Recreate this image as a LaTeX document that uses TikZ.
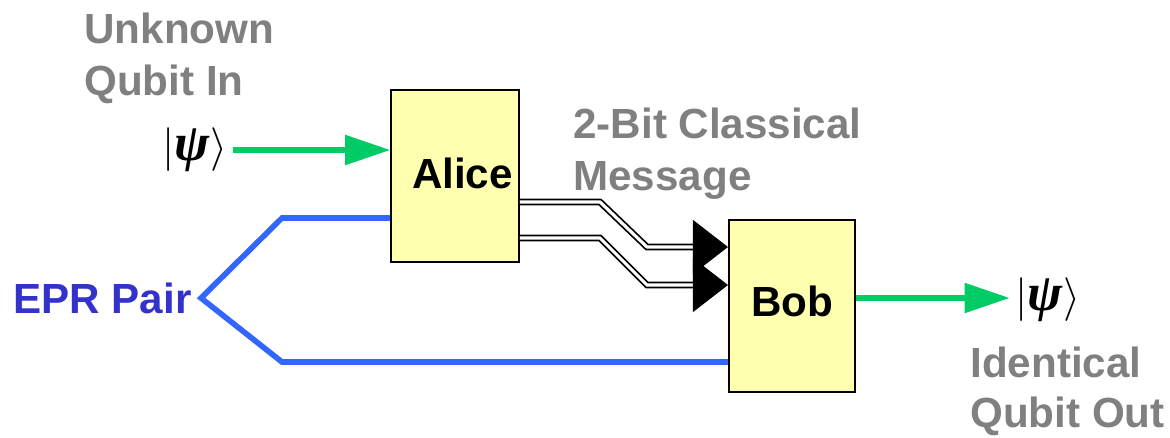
\documentclass[tikz,border=0pt]{standalone}
\usepackage{fontspec}
\setmainfont{Liberation Sans}
\newfontfamily\ketfont{Liberation Serif}
\usetikzlibrary{arrows.meta}
\definecolor{boxfill}{HTML}{FFFFB0}
\definecolor{labelgray}{HTML}{808080}
\definecolor{qgreen}{HTML}{00CC66}
\definecolor{eprblue}{HTML}{3366FF}
\definecolor{eprtext}{HTML}{3333CC}
\begin{document}
\begin{tikzpicture}[x=0.02cm,y=-0.02cm,
    party/.style={draw,line width=1.2pt,fill=boxfill,minimum width=2.52cm,minimum height=3.44cm,
        font=\fontsize{24}{29}\selectfont\bfseries},
    caption/.style={anchor=north west,align=left,inner sep=0pt,text=labelgray,
        font=\fontsize{24}{29.5}\selectfont\bfseries},
    ket/.style={font=\fontsize{30}{36}\selectfont},
    qubit/.style={draw=qgreen,line width=3pt,-{Triangle[length=0.9cm,width=0.58cm]}},
    epr/.style={draw=eprblue,line width=3.2pt},
    bits/.style={double,line width=1pt,double distance=1.8pt},
    bittip/.style={line width=0.5pt,-{Triangle[length=0.7cm,width=1.08cm]}}]
        \useasboundingbox (0,0) rectangle (1170,437);

        \node[caption] (inlabel) at (84,13) {Unknown\\Qubit In};
        \node[caption] (msglabel) at (573,108) {2-Bit Classical\\Message};
        \node[caption,font=\fontsize{24}{28.5}\selectfont\bfseries] (outlabel) at (970,347) {Identical\\Qubit Out};
        \node[anchor=west,inner sep=0pt,text=eprtext,font=\fontsize{24}{29}\selectfont\bfseries] (eprlabel) at (13,298) {EPR Pair};

        \node[party] (alice) at (455,176) {\raisebox{0.12cm}{\hspace*{0.3cm}Alice}};
        \node[party] (bob) at (792,306) {\raisebox{0.18cm}{Bob}};

        \node[ket] (psiin) at (195,150) {$\Bigl|\mbox{\ketfont\bfseries\itshape ψ}\Bigr\rangle$};
        \node[ket] (psiout) at (1048,300) {$\Bigl|\mbox{\ketfont\bfseries\itshape ψ}\Bigr\rangle$};

        \draw[qubit] (psiin.east) -- (alice.west|-psiin);
        \draw[qubit] (bob.east|-0,298) -- (psiout.west|-0,298);

        \coordinate (split) at (201,298);
        \coordinate (up) at (282,218);
        \coordinate (down) at (282,362);
        \draw[epr] (alice.west|-up) -- (up) -- (split) -- (down) -- (bob.west|-down);

        \coordinate (b1) at (600,202);
        \coordinate (c1) at (647,247);
        \coordinate (m1) at (693,247);
        \coordinate (b2) at (600,238);
        \coordinate (c2) at (647,285);
        \coordinate (m2) at (693,285);
        \draw[bits] (alice.east|-b1) -- (b1) -- (c1) -- (m1);
        \draw[bits] (alice.east|-b2) -- (b2) -- (c2) -- (m2);
        \draw[bittip] (m1) -- (bob.west|-m1);
        \draw[bittip] (m2) -- (bob.west|-m2);

    \end{tikzpicture}
\end{document}
